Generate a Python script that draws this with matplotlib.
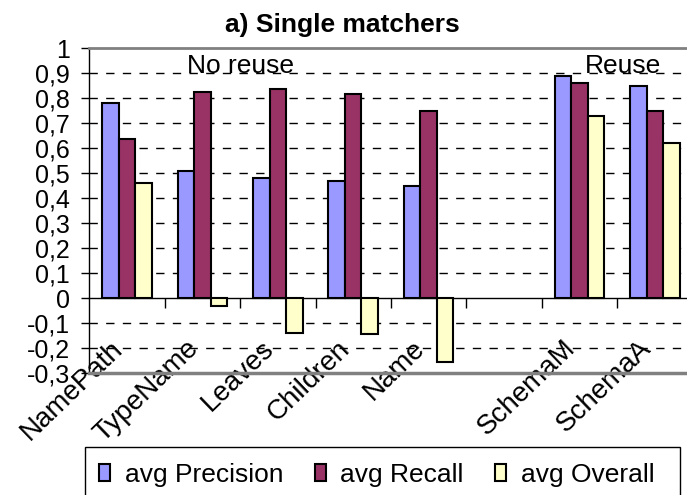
import numpy as np
import matplotlib
matplotlib.use("Agg")
import matplotlib.pyplot as plt
from matplotlib.patches import Rectangle, Patch
from matplotlib.transforms import ScaledTranslation

plt.rcParams['font.family'] = ['Liberation Sans', 'DejaVu Sans']

categories = ['NamePath', 'TypeName', 'Leaves', 'Children', 'Name', '', 'SchemaM', 'SchemaA']
precision = [0.78, 0.51, 0.48, 0.47, 0.45, np.nan, 0.89, 0.85]
recall = [0.635, 0.825, 0.835, 0.815, 0.75, np.nan, 0.86, 0.75]
overall = [0.46, -0.03, -0.14, -0.145, -0.255, np.nan, 0.73, 0.62]
series_names = ['avg Precision', 'avg Recall', 'avg Overall']
colors = ['#9999FF', '#993366', '#FFFFCC']
yticks = np.round(np.arange(-0.3, 1.01, 0.1), 1)

fig = plt.figure(figsize=(6.87, 4.95), dpi=100)
ax = fig.add_axes([89.3 / 687, 1 - 373 / 495, 603.2 / 687, 325 / 495])

x = np.arange(len(categories))
w = 0.22
for i, (vals, c, name) in enumerate(zip([precision, recall, overall], colors, series_names)):
    ax.bar(x + (i - 1) * w, vals, w, color=c, edgecolor='black', linewidth=1.5, label=name, zorder=3)

ax.set_xlim(-0.5, len(categories) - 0.5)
ax.set_ylim(-0.3, 1.0)

# dashed grid
for y in yticks:
    if y not in (-0.3, 0.0, 1.0):
        ax.axhline(y, color='black', lw=1, linestyle=(0, (6, 6)), zorder=1)

# spines: category axis sits at zero
ax.spines['bottom'].set_position(('data', 0))
ax.spines['bottom'].set_color('black')
ax.spines['bottom'].set_linewidth(1)
ax.spines['left'].set_linewidth(1)
ax.spines['top'].set_color('#808080')
ax.spines['top'].set_linewidth(2)
ax.spines['right'].set_color('#808080')
ax.spines['right'].set_linewidth(2)
ax.axhline(-0.3, color='#808080', lw=2.5, clip_on=False, zorder=4)

ax.set_yticks(yticks)
ax.set_yticklabels([('%g' % v).replace('.', ',') for v in yticks], fontsize=18)
ax.tick_params(axis='y', direction='out', length=6, width=1, pad=8)

ax.set_xticks(np.arange(0.5, len(categories) - 0.5, 1))
ax.set_xticklabels([])
ax.tick_params(axis='x', which='major', direction='out', length=7, width=1)
ax.set_xticks(x, minor=True)
ax.set_xticklabels(categories, minor=True, rotation=44, ha='right', va='top',
                   rotation_mode='anchor', fontsize=20)
ax.tick_params(axis='x', which='minor', length=0, pad=27)
for lab in ax.get_xticklabels(minor=True):
    lab.set_transform(lab.get_transform() + ScaledTranslation(-12 / 72, 0, fig.dpi_scale_trans))

ax.text(1.51, 0.928, 'No reuse', fontsize=19, ha='center', va='center')
ax.text(6.58, 0.928, 'Reuse', fontsize=19, ha='center', va='center')

fig.text(342 / 687, 1 - 25 / 495, 'a) Single matchers', fontsize=19, fontweight='bold',
         ha='center', va='center')

# legend box extending past the bottom edge
fig.patches.append(Rectangle((85 / 687, -0.05), 595 / 687, 1 - 447 / 495 + 0.05,
                             transform=fig.transFigure, fill=False, edgecolor='black', lw=1))
handles = [Patch(facecolor=c, edgecolor='black', linewidth=1.5) for c in colors]
fig.legend(handles, series_names, loc='center left', bbox_to_anchor=(99 / 687, 1 - 475 / 495),
           ncol=3, frameon=False, fontsize=19, handlelength=0.42, handleheight=0.6,
           handletextpad=0.55, columnspacing=1.2, borderpad=0, borderaxespad=0)

fig.savefig('out.png', dpi=100)
